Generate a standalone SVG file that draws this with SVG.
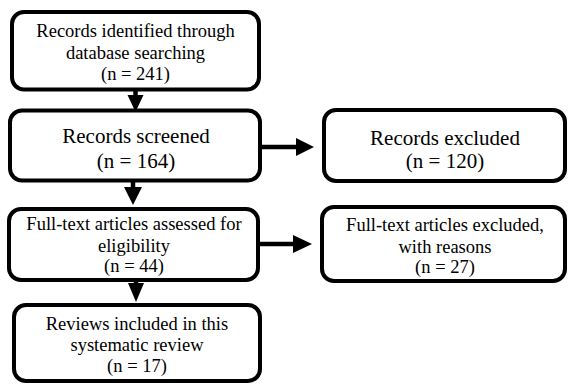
<svg xmlns="http://www.w3.org/2000/svg" width="568" height="389" viewBox="0 0 568 389">
<style>
.box{fill:#fff;stroke:#000;stroke-width:4}
.ln{stroke:#000;stroke-width:4.5;fill:none}
.hd{fill:#000}
</style>
<rect width="568" height="389" fill="#fff"/>
<g id="connectors">
<line class="ln" x1="135.5" y1="89" x2="135.5" y2="98"/>
<polygon class="hd" points="127.5,95 143.5,95 135.5,112"/>
<line class="ln" x1="133" y1="181" x2="133" y2="190"/>
<polygon class="hd" points="124,187 142,187 133,205"/>
<line class="ln" x1="136" y1="280" x2="136" y2="286"/>
<polygon class="hd" points="128,283 144,283 136,302"/>
<line class="ln" x1="260" y1="147" x2="298" y2="147"/>
<polygon class="hd" points="296,138 296,156 314,147"/>
<line class="ln" x1="258" y1="244" x2="295" y2="244"/>
<polygon class="hd" points="293,235 293,253 312,244"/>
</g>
<g font-family="Liberation Serif, serif" text-anchor="middle" fill="#000">
<g id="n1">
<rect class="box" x="12" y="12" width="247" height="77.5" rx="12"/>
<text font-size="18.5" x="135.5" y="37">Records identified through</text>
<text font-size="18.5" x="135.5" y="58.5">database searching</text>
<text font-size="18.5" x="135.5" y="79.5">(n = 241)</text>
</g>
<g id="n2">
<rect class="box" x="10" y="110.5" width="250" height="70" rx="12"/>
<text font-size="21" x="136" y="143">Records screened</text>
<text font-size="21" x="136" y="168">(n = 164)</text>
</g>
<g id="n3">
<rect class="box" x="324" y="110" width="241" height="71" rx="12"/>
<text font-size="21" x="445" y="144.5">Records excluded</text>
<text font-size="21" x="445" y="167.5">(n = 120)</text>
</g>
<g id="n4">
<rect class="box" x="9" y="209" width="249" height="71" rx="12"/>
<text font-size="18.5" x="134" y="230">Full-text articles assessed for</text>
<text font-size="18.5" x="134" y="251.5">eligibility</text>
<text font-size="18.5" x="134" y="272">(n = 44)</text>
</g>
<g id="n5">
<rect class="box" x="322" y="207" width="243" height="74" rx="12"/>
<text font-size="18.5" x="445" y="231">Full-text articles excluded,</text>
<text font-size="18.5" x="445" y="252.5">with reasons</text>
<text font-size="18.5" x="445" y="273">(n = 27)</text>
</g>
<g id="n6">
<rect class="box" x="14" y="305" width="246" height="76" rx="12"/>
<text font-size="18.5" x="137" y="330">Reviews included in this</text>
<text font-size="18.5" x="137" y="351">systematic review</text>
<text font-size="18.5" x="137" y="372">(n = 17)</text>
</g>
</g>
</svg>
